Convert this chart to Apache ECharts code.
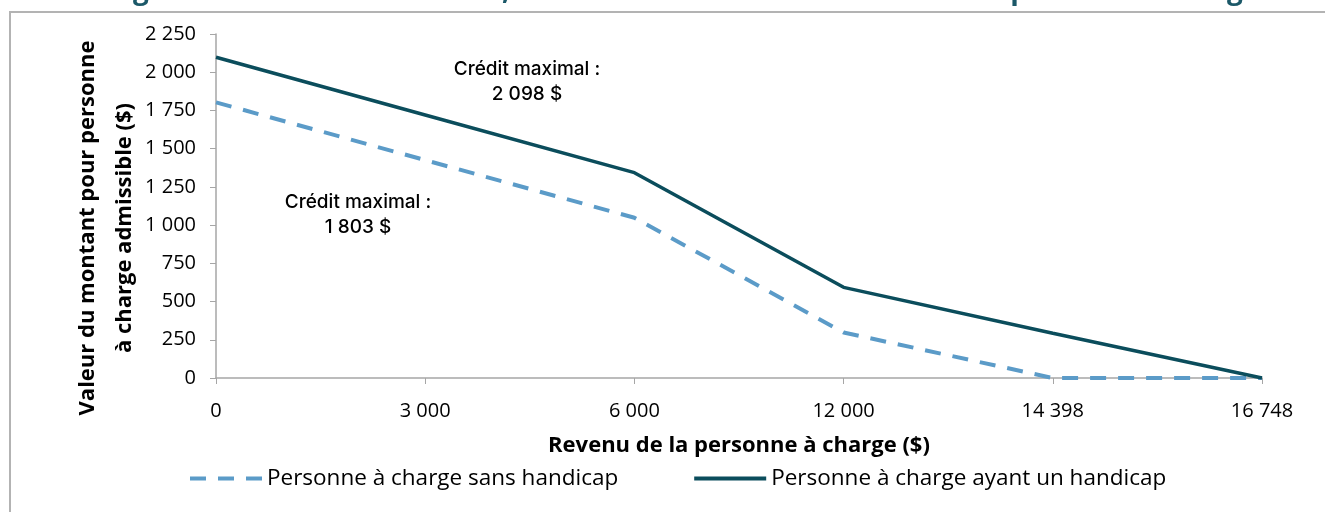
<!DOCTYPE html>
<html>
<head>
<meta charset="utf-8">
<script src="https://cdn.jsdelivr.net/npm/echarts@6/dist/echarts.min.js"></script>
<style>
  html, body { margin: 0; padding: 0; background: #fff; }
  #chart { width: 1325px; height: 512px; }
</style>
</head>
<body>
<div id="chart"></div>
<script>
// revenu de la personne à charge ($)
const categories = ["0", "3 000", "6 000", "12 000", "14 398", "16 748"];
// valeur du montant ($)
const sansHandicap = [1803, 1425, 1048, 298, 0, 0];
const avecHandicap = [2098, 1720, 1343, 593, 293, 0];
const seriesNames = ["Personne à charge sans handicap", "Personne à charge ayant un handicap"];
const annotations = [
  { lines: ["Crédit maximal :", "2 098 $"], x: 527, y: 82 },
  { lines: ["Crédit maximal :", "1 803 $"], x: 358, y: 215 }
];
// bas du titre coupé en haut de l'image
const titleBits = [
  { text: "g", x: 141 },
  { text: ",", x: 506 },
  { text: "p", x: 1019 },
  { text: "g", x: 1235 }
];

const axisGray = "#a6a6a6";
const fontFam = "'Open Sans', sans-serif";

function fmt(v) {
  return String(v).replace(/\B(?=(\d{3})+(?!\d))/g, " ");
}

const chart = echarts.init(document.getElementById("chart"));

const graphic = [
  // cadre gris
  {
    type: "polyline",
    shape: { points: [[10, 512], [10, 12], [1325, 12]] },
    style: { stroke: "#b3b3b3", lineWidth: 2, fill: null }
  },
  {
    type: "text",
    x: 106,
    y: 228,
    rotation: Math.PI / 2,
    style: {
      text: "Valeur du montant pour personne\nà charge admissible ($)",
      font: "bold 22px " + fontFam,
      lineHeight: 37,
      fill: "#000",
      align: "center",
      verticalAlign: "middle"
    }
  }
];

annotations.forEach(a => {
  graphic.push({
    type: "text",
    x: a.x,
    y: a.y,
    style: {
      text: a.lines.join("\n"),
      font: "500 19px Inter, sans-serif",
      lineHeight: 25,
      fill: "#000",
      align: "center",
      verticalAlign: "middle"
    }
  });
});

titleBits.forEach(t => {
  graphic.push({
    type: "text",
    x: t.x,
    y: 5,
    style: {
      text: t.text,
      font: "bold 28px " + fontFam,
      fill: "#1b5868",
      align: "center",
      verticalAlign: "bottom"
    }
  });
});

const option = {
  backgroundColor: "#fff",
  animation: false,
  grid: { left: 216, right: 63, top: 34, bottom: 134 },
  legend: {
    left: 183,
    top: 462,
    itemWidth: 72,
    itemHeight: 14,
    itemGap: 74,
    itemStyle: { opacity: 0 },
    lineStyle: { width: 4 },
    textStyle: { fontFamily: fontFam, fontSize: 22.5, color: "#000" },
    data: seriesNames
  },
  xAxis: {
    type: "category",
    data: categories,
    boundaryGap: false,
    name: "Revenu de la personne à charge ($)",
    nameLocation: "middle",
    nameGap: 57,
    nameTextStyle: { fontFamily: fontFam, fontSize: 22, fontWeight: "bold", color: "#000" },
    axisLine: { lineStyle: { color: axisGray, width: 1.5 } },
    axisTick: { alignWithLabel: true, length: 6, lineStyle: { color: axisGray } },
    axisLabel: { fontFamily: fontFam, fontSize: 20, color: "#000", margin: 23 },
    splitLine: { show: false }
  },
  yAxis: {
    type: "value",
    min: 0,
    max: 2250,
    interval: 250,
    axisLine: { show: true, lineStyle: { color: axisGray, width: 1.5 } },
    axisTick: { show: true, length: 6, lineStyle: { color: axisGray } },
    axisLabel: { fontFamily: fontFam, fontSize: 20, color: "#000", margin: 20, formatter: fmt },
    splitLine: { show: false }
  },
  series: [
    {
      name: seriesNames[0],
      type: "line",
      data: sansHandicap,
      symbol: "none",
      color: "#5b9bc8",
      lineStyle: { color: "#5b9bc8", width: 4, type: [16, 12] },
      z: 3
    },
    {
      name: seriesNames[1],
      type: "line",
      data: avecHandicap,
      symbol: "none",
      color: "#0b4d5c",
      lineStyle: { color: "#0b4d5c", width: 3.5 },
      z: 4
    }
  ],
  graphic
};

chart.setOption(option);
</script>
</body>
</html>
